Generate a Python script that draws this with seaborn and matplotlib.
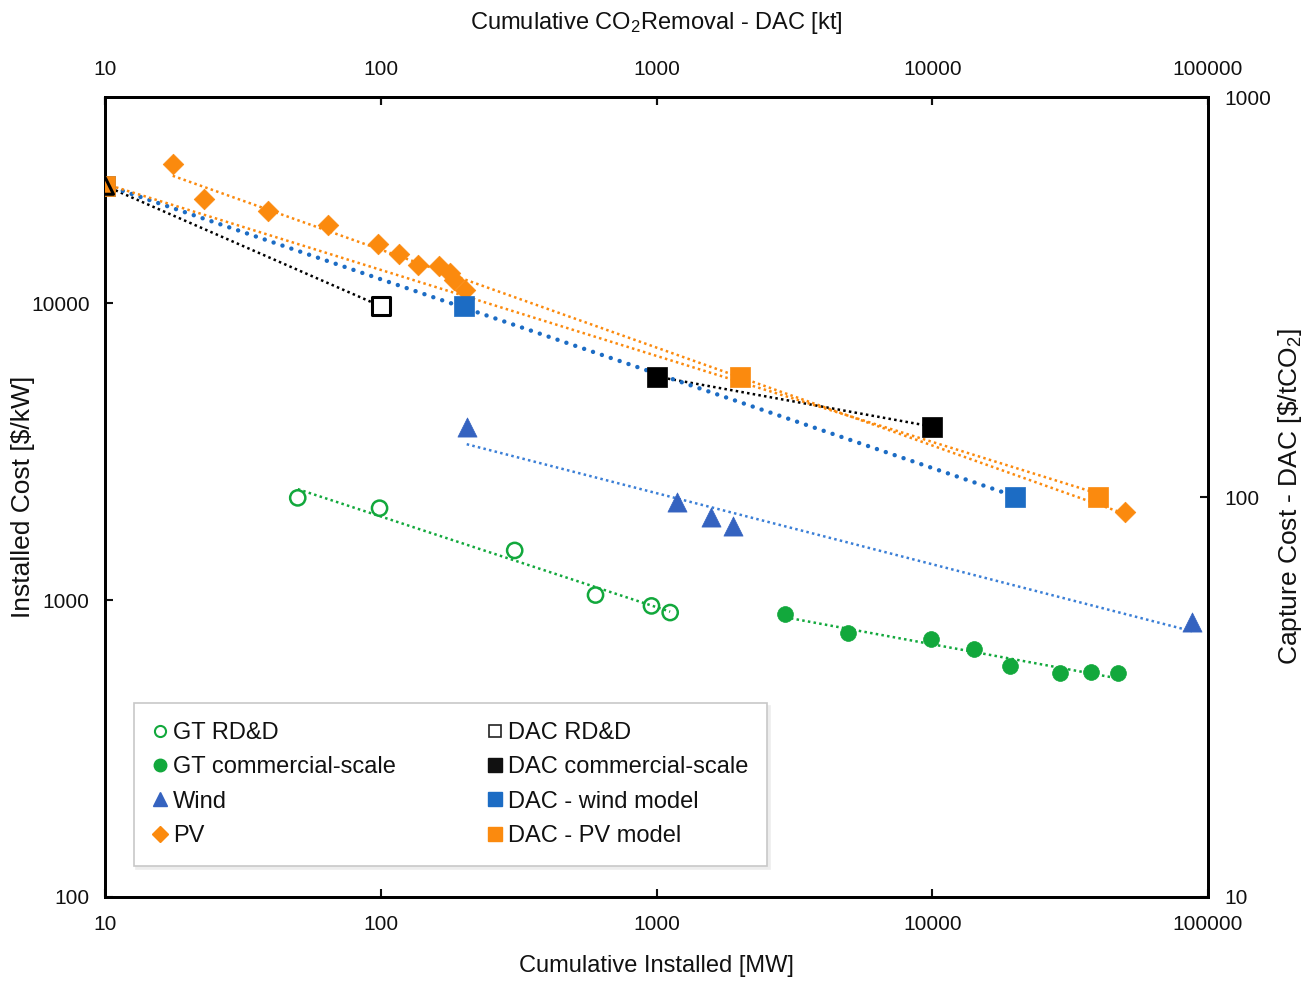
import numpy as np
import matplotlib
matplotlib.use("Agg")
import matplotlib.pyplot as plt
import seaborn as sns
from matplotlib.lines import Line2D

# ---------------- data ----------------
gt_rdd_x = [50, 99, 306, 601, 959, 1121]
gt_rdd_y = [2210, 2040, 1470, 1040, 956, 908]
gt_com_x = [2930, 4960, 9920, 14200, 19200, 29100, 37800, 47200]
gt_com_y = [895, 772, 739, 684, 600, 566, 574, 566]
wind_x = [205, 1185, 1573, 1897, 87500]
wind_y = [3830, 2140, 1910, 1775, 843]
pv_x = [17.6, 22.8, 38.9, 64.4, 97.5, 116, 137, 162, 178, 185, 202, 50000]
pv_y = [29400, 22400, 20440, 18400, 15890, 14620, 13430, 13320, 12600, 11940, 11060, 1980]

dac_rdd_x = [10, 100]
dac_rdd_y = [600, 300]
dac_com_x = [1000, 10000]
dac_com_y = [200, 150]
dac_wind_x = [10, 200, 20000]
dac_wind_y = [600, 300, 100]
dac_pv_x = [10, 2000, 40000]
dac_pv_y = [600, 200, 100]

x_ticks = [10, 100, 1000, 10000, 100000]
x_tick_labels = ["10", "100", "1000", "10000", "100000"]
left_ticks = [100, 1000, 10000]
left_tick_labels = ["100", "1000", "10000"]
right_ticks = [10, 100, 1000]
right_tick_labels = ["10", "100", "1000"]

legend_labels = ["GT RD&D", "GT commercial-scale", "Wind", "PV",
                 "DAC RD&D", "DAC commercial-scale", "DAC - wind model",
                 "DAC - PV model"]

# ---------------- style ----------------
sns.set_theme(style="white")
plt.rcParams["font.family"] = ["Liberation Sans", "DejaVu Sans"]
plt.rcParams["mathtext.fontset"] = "custom"
plt.rcParams["mathtext.rm"] = "Liberation Sans"
plt.rcParams["mathtext.it"] = "Liberation Sans"
plt.rcParams["mathtext.default"] = "regular"

GREEN = "#12a83c"
WIND_BLUE = "#3563c0"
WIND_LINE = "#3b7fd6"
DAC_BLUE = "#1c6cc4"
ORANGE = "#fb8a0e"
BLACK = "#000000"
TXT = "#111111"


def power_fit(x, y, n=60):
    lx, ly = np.log10(x), np.log10(y)
    b, a = np.polyfit(lx, ly, 1)
    xs = np.logspace(lx.min(), lx.max(), n)
    return xs, 10 ** (a + b * np.log10(xs))


fig = plt.figure(figsize=(13.04, 9.82), dpi=100)
ax = fig.add_axes([105 / 1304, 1 - 897 / 982, 1103 / 1304, 800 / 982])
ax.set_xscale("log")
ax.set_yscale("log")
ax.set_xlim(10, 100000)
ax.set_ylim(100, 49500)

ax2 = ax.twinx()
ax2.set_yscale("log")
ax2.set_ylim(10, 1000)

thin = dict(lw=1.8, linestyle=(0, (1, 1.3)))

# --- trend lines (left axis) ---
for xs_, ys_, c in [(gt_rdd_x, gt_rdd_y, GREEN), (gt_com_x, gt_com_y, GREEN),
                    (wind_x, wind_y, WIND_LINE), (pv_x, pv_y, ORANGE)]:
    fx, fy = power_fit(xs_, ys_)
    ax.plot(fx, fy, color=c, **thin, zorder=2)

# --- markers (left axis) ---
sns.scatterplot(x=gt_rdd_x, y=gt_rdd_y, ax=ax, marker="o", s=120,
                facecolors="none", edgecolor=GREEN, linewidth=1.8, zorder=3)
sns.scatterplot(x=gt_com_x, y=gt_com_y, ax=ax, marker="o", s=130,
                color=GREEN, edgecolor=GREEN, linewidth=0.5, zorder=3)
sns.scatterplot(x=wind_x, y=wind_y, ax=ax, marker="^", s=190,
                color=WIND_BLUE, edgecolor=WIND_BLUE, linewidth=0.5, zorder=3)
sns.scatterplot(x=pv_x, y=pv_y, ax=ax, marker="D", s=110,
                color=ORANGE, edgecolor=ORANGE, linewidth=0.5, zorder=3)

# --- DAC (right / top axes) ---
ax2.plot(dac_rdd_x, dac_rdd_y, color=BLACK, **thin, zorder=2)
ax2.plot(dac_com_x, dac_com_y, color=BLACK, **thin, zorder=2)
fx, fy = power_fit(dac_wind_x, dac_wind_y)
ax2.plot(fx, fy, color=DAC_BLUE, lw=3.2, linestyle=(0, (0.01, 2.1)),
         dash_capstyle="round", zorder=2)
fx, fy = power_fit(dac_pv_x, dac_pv_y)
ax2.plot(fx, fy, color=ORANGE, **thin, zorder=2)

sns.scatterplot(x=dac_wind_x, y=dac_wind_y, ax=ax2, marker="s", s=190,
                color=DAC_BLUE, edgecolor=DAC_BLUE, linewidth=0.5, zorder=3)
sns.scatterplot(x=dac_pv_x, y=dac_pv_y, ax=ax2, marker="s", s=190,
                color=ORANGE, edgecolor=ORANGE, linewidth=0.5, zorder=3)
sns.scatterplot(x=dac_com_x, y=dac_com_y, ax=ax2, marker="s", s=190,
                color=BLACK, edgecolor=BLACK, linewidth=0.5, zorder=3)
sns.scatterplot(x=dac_rdd_x[1:], y=dac_rdd_y[1:], ax=ax2, marker="s", s=160,
                facecolors="white", edgecolor=BLACK, linewidth=2.2, zorder=4)
sns.scatterplot(x=dac_rdd_x[:1], y=dac_rdd_y[:1], ax=ax2, marker="^", s=150,
                facecolors="none", edgecolor=BLACK, linewidth=2.2, zorder=4)

# ---------------- axes formatting ----------------
for a in (ax, ax2):
    for sp in a.spines.values():
        sp.set_color("black")
        sp.set_linewidth(2)

ax.set_xticks(x_ticks)
ax.set_xticklabels(x_tick_labels)
ax.set_yticks(left_ticks)
ax.set_yticklabels(left_tick_labels)
ax2.set_yticks(right_ticks)
ax2.set_yticklabels(right_tick_labels)
ax.minorticks_off()
ax2.minorticks_off()

ax.tick_params(axis="x", direction="in", length=6, width=1.5, pad=13,
               labelsize=15, colors=TXT, bottom=True, top=True)
ax.tick_params(axis="y", direction="in", length=6, width=1.5, pad=11,
               labelsize=15, colors=TXT, left=True)
ax2.tick_params(axis="y", direction="in", length=6, width=1.5, pad=12,
                labelsize=15, colors=TXT, right=True)

secax = ax.secondary_xaxis("top")
secax.set_xticks(x_ticks)
secax.set_xticklabels(x_tick_labels)
secax.minorticks_off()
secax.tick_params(axis="x", direction="in", length=6, width=1.5, pad=13,
                  labelsize=15, colors=TXT)
secax.spines["top"].set_linewidth(2)
secax.set_xlabel(r"Cumulative CO$_2$Removal - DAC [kt]", fontsize=17,
                 labelpad=22, color=TXT)

ax.set_xlabel("Cumulative Installed [MW]", fontsize=17, labelpad=15,
              color=TXT)
ax.set_ylabel("Installed Cost [$/kW]", fontsize=19, labelpad=-3,
              color=TXT)
ax2.set_ylabel(r"Capture Cost - DAC [\$/tCO$_2$]", fontsize=19, labelpad=3,
               color=TXT)

# ---------------- legend ----------------
handles = [
    Line2D([], [], ls="none", marker="o", ms=8, mfc="none", mec=GREEN, mew=1.5),
    Line2D([], [], ls="none", marker="o", ms=9, mfc=GREEN, mec=GREEN),
    Line2D([], [], ls="none", marker="^", ms=10, mfc=WIND_BLUE, mec=WIND_BLUE),
    Line2D([], [], ls="none", marker="D", ms=8, mfc=ORANGE, mec=ORANGE),
    Line2D([], [], ls="none", marker="s", ms=9, mfc="white", mec="#222222", mew=1.2),
    Line2D([], [], ls="none", marker="s", ms=10, mfc="#111111", mec="#111111"),
    Line2D([], [], ls="none", marker="s", ms=10, mfc=DAC_BLUE, mec=DAC_BLUE),
    Line2D([], [], ls="none", marker="s", ms=10, mfc=ORANGE, mec=ORANGE),
]
leg = ax2.legend(handles, legend_labels, ncol=2, loc="lower left",
                 bbox_to_anchor=(0.026, 0.039), borderaxespad=0,
                 fontsize=17, frameon=True, fancybox=False,
                 edgecolor="#c8c8c8", handlelength=0.6, handletextpad=0.25,
                 columnspacing=3.9, labelspacing=0.52, borderpad=0.8,
                 shadow={"color": "#ededed", "alpha": 1.0})
leg.get_frame().set_linewidth(1.2)
for t in leg.get_texts():
    t.set_color(TXT)

fig.savefig("out.png", dpi=100)
